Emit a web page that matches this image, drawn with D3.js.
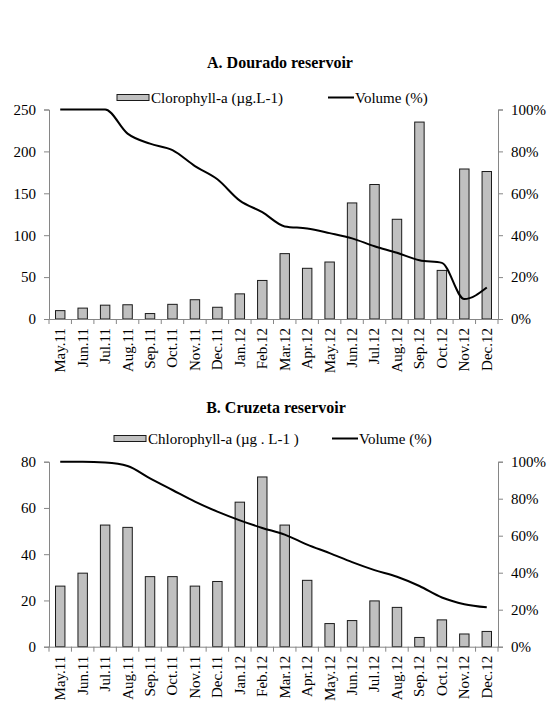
<!DOCTYPE html>
<html><head><meta charset="utf-8">
<script src="https://cdn.jsdelivr.net/npm/d3@7"></script>
<style>
body{margin:0;background:#fff;}
svg text{font-family:"Liberation Serif","Times New Roman",Times,"DejaVu Serif",serif !important;fill:#000;}
</style></head>
<body><svg id="c" width="549" height="703"></svg>
<script>
const months = ["May.11","Jun.11","Jul.11","Aug.11","Sep.11","Oct.11","Nov.11","Dec.11","Jan.12","Feb.12","Mar.12","Apr.12","May.12","Jun.12","Jul.12","Aug.12","Sep.12","Oct.12","Nov.12","Dec.12"];
const chlA = [10,13,16.5,17,6.5,17.5,23,14,30,46,78,60.5,68,138.5,160.5,119,235,58,179,176];
const volA = [100,100,100,88.5,83.7,80.6,73,66.7,56.5,51,44.2,43.2,41,38.5,34.7,31.6,28,26.8,9.5,15];
const chlB = [26.2,31.8,52.6,51.6,30.3,30.3,26.2,28.2,62.5,73.4,52.6,28.7,10,11.3,19.8,17,4,11.6,5.5,6.6];
const volB = [100,100,99.6,97.7,91,84.7,78.4,73,68.3,64.2,60.6,55.2,50.6,45.7,41.4,37.8,32.8,26.6,23,21.3];
const leftTicksA = [0,50,100,150,200,250];
const leftTicksB = [0,20,40,60,80];
const rightTicks = [0,20,40,60,80,100];

const svg = d3.select("#c");
const axisColor = "#868686";
const FONT = '"Liberation Serif","Times New Roman",Times,"DejaVu Serif",serif';

function drawChart(cfg){
  const g = svg.append("g");
  const x = d3.scaleBand().domain(months).range([49,498]).padding(0);
  const yL = d3.scaleLinear().domain([0,cfg.maxL]).range([cfg.y0,cfg.y1]);
  const yR = d3.scaleLinear().domain([0,100]).range([cfg.y0,cfg.y1]);
  const bw = x.bandwidth();
  const barW = bw*0.42;

  g.append("text").attr("x",cfg.titleX).attr("y",cfg.titleY).attr("text-anchor","middle")
    .attr("font-family",FONT).style("font-size","16px").style("font-weight","bold").text(cfg.title);

  g.selectAll("rect.bar").data(cfg.chl).enter().append("rect")
    .attr("x",(d,i)=>x(months[i])+(bw-barW)/2)
    .attr("y",d=>yL(d)).attr("width",barW).attr("height",d=>cfg.y0-yL(d))
    .attr("fill","#c0c0c0").attr("stroke","#1a1a1a").attr("stroke-width",1);

  const la = g.append("g").attr("transform","translate(49,0)")
    .call(d3.axisLeft(yL).tickValues(cfg.leftTicks).tickSize(5).tickPadding(8));
  la.attr("font-family",FONT).attr("font-size",15);
  la.selectAll("path,line").attr("stroke",axisColor);
  const ra = g.append("g").attr("transform","translate(498,0)")
    .call(d3.axisRight(yR).tickValues(rightTicks).tickSize(5).tickPadding(8).tickFormat(d=>d+"%"));
  ra.attr("font-family",FONT).attr("font-size",15);
  ra.selectAll("path,line").attr("stroke",axisColor);

  const xa = g.append("g").attr("transform",`translate(0,${cfg.y0})`)
    .call(d3.axisBottom(x).tickSize(0).tickPadding(0));
  xa.attr("font-family",FONT).attr("font-size",15);
  xa.select("path").attr("stroke",axisColor);
  xa.selectAll(".tick text").attr("transform","rotate(-90)").attr("text-anchor","end")
    .attr("x",-9).attr("y",0).attr("dy","0.33em");
  const bounds = months.map(m=>x(m)).concat([498]);
  g.selectAll("line.xt").data(bounds).enter().append("line")
    .attr("x1",d=>d).attr("x2",d=>d).attr("y1",cfg.y0).attr("y2",cfg.y0+5).attr("stroke",axisColor);

  const line = d3.line().x((d,i)=>x(months[i])+bw/2).y(d=>yR(d)).curve(d3.curveMonotoneX);
  g.append("path").datum(cfg.vol).attr("d",line).attr("fill","none").attr("stroke","#000").attr("stroke-width",2);

  const L = cfg.legend;
  g.append("rect").attr("x",L.rx).attr("y",L.y-3).attr("width",L.rw).attr("height",6)
    .attr("fill","#c0c0c0").attr("stroke","#1a1a1a");
  g.append("text").attr("x",L.rx+L.rw+2).attr("y",L.y+5).attr("font-family",FONT).style("font-size","15px").text(cfg.chlLabel);
  g.append("line").attr("x1",L.lx).attr("x2",L.lx+26).attr("y1",L.y).attr("y2",L.y).attr("stroke","#000").attr("stroke-width",2);
  g.append("text").attr("x",L.lx+27).attr("y",L.y+5).attr("font-family",FONT).style("font-size","15px").text("Volume (%)");
}

drawChart({title:"A. Dourado reservoir",titleX:280,titleY:68,maxL:250,y0:319,y1:109.5,
  chl:chlA,vol:volA,leftTicks:leftTicksA,chlLabel:"Clorophyll-a (µg.L-1)",
  legend:{rx:117,rw:32,y:97.5,lx:328}});
drawChart({title:"B. Cruzeta reservoir",titleX:276,titleY:413,maxL:80,y0:646.7,y1:461.7,
  chl:chlB,vol:volB,leftTicks:leftTicksB,chlLabel:"Chlorophyll-a (µg . L-1 )",
  legend:{rx:114,rw:32,y:438.5,lx:332}});
</script></body></html>
